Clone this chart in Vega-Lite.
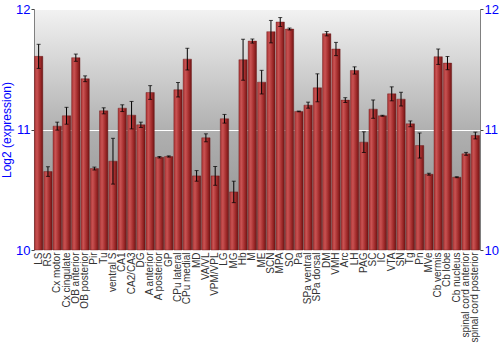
{
  "$schema": "https://vega.github.io/schema/vega-lite/v6.json",
  "width": 446,
  "height": 241,
  "autosize": {"type": "none"},
  "padding": {"left": 34, "top": 9, "right": 20, "bottom": 100},
  "config": {
    "font": "Liberation Sans",
    "view": {
      "stroke": "#808080",
      "strokeWidth": 1,
      "fill": {"gradient": "linear", "x1": 0, "y1": 0, "x2": 0, "y2": 1,
        "stops": [{"offset": 0, "color": "#f2f2f2"}, {"offset": 0.5, "color": "#b0b0b0"}, {"offset": 1, "color": "#8a8a8a"}]}
    }
  },
  "data": {"values": [
    {"region": "LS", "value": 11.607, "err": 0.1},
    {"region": "RS", "value": 10.651, "err": 0.04},
    {"region": "Cx motor", "value": 11.028, "err": 0.033},
    {"region": "Cx cingulate", "value": 11.114, "err": 0.07},
    {"region": "OB anterior", "value": 11.596, "err": 0.03},
    {"region": "OB posterior", "value": 11.421, "err": 0.024},
    {"region": "Pir", "value": 10.676, "err": 0.012},
    {"region": "Tu", "value": 11.155, "err": 0.025},
    {"region": "ventral S", "value": 10.737, "err": 0.19},
    {"region": "CA1", "value": 11.177, "err": 0.028},
    {"region": "CA2/CA3", "value": 11.119, "err": 0.114},
    {"region": "DG", "value": 11.039, "err": 0.022},
    {"region": "A anterior", "value": 11.307, "err": 0.057},
    {"region": "A posterior", "value": 10.77, "err": 0.006},
    {"region": "GP", "value": 10.776, "err": 0.005},
    {"region": "CPu lateral", "value": 11.33, "err": 0.06},
    {"region": "CPu medial", "value": 11.584, "err": 0.09},
    {"region": "MD", "value": 10.615, "err": 0.044},
    {"region": "VA/VL", "value": 10.931, "err": 0.033},
    {"region": "VPM/VPL", "value": 10.615, "err": 0.078},
    {"region": "LG", "value": 11.089, "err": 0.036},
    {"region": "MG", "value": 10.482, "err": 0.089},
    {"region": "Hb", "value": 11.579, "err": 0.17},
    {"region": "M", "value": 11.734, "err": 0.017},
    {"region": "ME", "value": 11.393, "err": 0.098},
    {"region": "SCN", "value": 11.812, "err": 0.093},
    {"region": "MPA", "value": 11.892, "err": 0.037},
    {"region": "SO", "value": 11.834, "err": 0.008},
    {"region": "Pa", "value": 11.15, "err": 0.003},
    {"region": "SPa ventral", "value": 11.202, "err": 0.025},
    {"region": "SPa dorsal", "value": 11.346, "err": 0.116},
    {"region": "DM", "value": 11.795, "err": 0.018},
    {"region": "VMH", "value": 11.668, "err": 0.055},
    {"region": "Arc", "value": 11.244, "err": 0.02},
    {"region": "LH", "value": 11.49, "err": 0.03},
    {"region": "PAG", "value": 10.895, "err": 0.086},
    {"region": "SC", "value": 11.169, "err": 0.076},
    {"region": "IC", "value": 11.114, "err": 0.004},
    {"region": "VTA", "value": 11.296, "err": 0.058},
    {"region": "SN", "value": 11.252, "err": 0.057},
    {"region": "Tg", "value": 11.047, "err": 0.024},
    {"region": "Pn", "value": 10.867, "err": 0.104},
    {"region": "MVe", "value": 10.629, "err": 0.008},
    {"region": "Cb vermis", "value": 11.604, "err": 0.064},
    {"region": "Cb lobe", "value": 11.551, "err": 0.055},
    {"region": "Cb nucleus", "value": 10.604, "err": 0.004},
    {"region": "spinal cord anterior", "value": 10.798, "err": 0.012},
    {"region": "spinal cord posterior", "value": 10.95, "err": 0.028}
  ]},
  "encoding": {
    "x": {
      "field": "region", "type": "nominal", "sort": null,
      "scale": {"paddingInner": 0.1, "paddingOuter": 0.05},
      "axis": {"title": null, "labelAngle": -90, "labelAlign": "right", "labelBaseline": "middle",
        "labelFontSize": 10, "labelColor": "#333333", "labelPadding": 2, "ticks": false, "domain": false}
    }
  },
  "layer": [
    {
      "mark": {"type": "bar", "stroke": "#6a1515", "strokeWidth": 0.4,
        "color": {"gradient": "linear", "x1": 0, "y1": 0, "x2": 1, "y2": 0,
          "stops": [{"offset": 0, "color": "#a83434"}, {"offset": 0.3, "color": "#c95252"}, {"offset": 0.7, "color": "#a02a2a"}, {"offset": 1, "color": "#6e1515"}]}},
      "encoding": {
        "y": {"field": "value", "type": "quantitative",
          "scale": {"domain": [10, 12], "zero": false, "nice": false},
          "axis": {"title": "Log2 (expression)", "titleColor": "#0000ff", "titleFontSize": 12, "titleFontWeight": "normal",
            "titlePadding": 2, "labelColor": "#0000ff", "labelFontSize": 13, "values": [10, 11, 12], "format": ".0f", "labelOverlap": false,
            "tickSize": 3, "tickColor": "#444444", "domainColor": "#808080", "labelPadding": 1,
            "grid": true, "gridColor": "#ffffff", "gridWidth": 1.2, "gridOpacity": 1}},
        "y2": {"datum": 10}
      }
    },
    {
      "mark": {"type": "errorbar", "ticks": {"size": 4, "color": "#000000"}, "rule": {"color": "#000000"}},
      "encoding": {
        "y": {"field": "value", "type": "quantitative", "axis": null},
        "yError": {"field": "err"}
      }
    },
    {
      "mark": {"type": "tick", "opacity": 0},
      "encoding": {
        "y": {"field": "value", "type": "quantitative",
          "axis": {"orient": "right", "title": null, "labelColor": "#0000ff", "labelFontSize": 13, "values": [10, 11, 12], "format": ".0f", "labelOverlap": false,
            "tickSize": 3, "tickColor": "#444444", "domainColor": "#808080", "labelPadding": 1, "grid": false}}
      }
    }
  ],
  "resolve": {"axis": {"y": "independent"}}
}
